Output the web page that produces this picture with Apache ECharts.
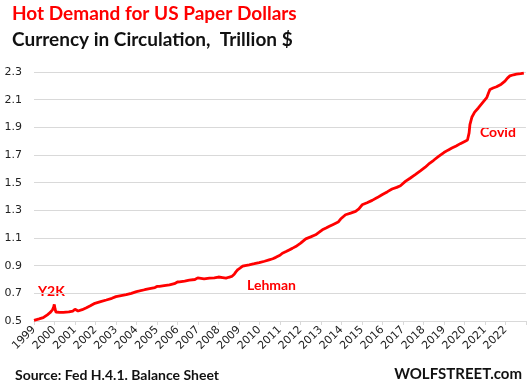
<!DOCTYPE html>
<html>
<head>
<meta charset="utf-8">
<script src="https://cdn.jsdelivr.net/npm/echarts@6/dist/echarts.min.js"></script>
<style>
html,body{margin:0;padding:0;background:#fff;}
#chart{width:528px;height:391px;}
</style>
</head>
<body>
<div id="chart"></div>
<script>
// Time in decimal years
const years = [
1999.00,1999.25,1999.45,1999.65,1999.78,1999.90,1999.96,1999.99,2000.03,2000.07,
2000.25,2000.43,2000.70,2000.90,2001.00,2001.05,2001.15,2001.35,2001.56,2001.75,
2001.97,2002.00,2002.05,2002.25,2002.53,2002.80,2003.00,2003.05,2003.25,2003.50,
2003.75,2004.00,2004.15,2004.40,2004.64,2004.90,2005.00,2005.12,2005.35,2005.61,
2005.85,2006.00,2006.10,2006.35,2006.58,2006.85,2006.99,2007.05,2007.30,2007.56,
2007.80,2008.00,2008.20,2008.37,2008.50,2008.65,2008.77,2008.85,2008.95,2009.05,
2009.18,2009.30,2009.50,2009.75,2009.99,2010.25,2010.47,2010.65,2010.80,2011.00,
2011.12,2011.30,2011.45,2011.60,2011.77,2012.01,2012.26,2012.50,2012.74,2012.90,
2013.07,2013.25,2013.39,2013.60,2013.84,2013.96,2014.20,2014.45,2014.69,2014.85,
2015.01,2015.25,2015.50,2015.75,2015.98,2016.25,2016.47,2016.70,2016.88,2017.12,
2017.35,2017.60,2017.85,2018.09,2018.30,2018.50,2018.74,2019.00,2019.20,2019.39,
2019.60,2019.80,2020.04,2020.15,2020.20,2020.23,2020.27,2020.37,2020.50,2020.68,
2020.90,2021.09,2021.18,2021.25,2021.40,2021.57,2021.80,2021.98,2022.10,2022.22,
2022.40,2022.54,2022.75,2022.90
];
// Currency in circulation, trillion $
const currency = [
0.505,0.515,0.524,0.545,0.560,0.580,0.600,0.620,0.585,0.565,
0.562,0.563,0.566,0.572,0.585,0.578,0.572,0.582,0.596,0.610,
0.628,0.635,0.628,0.640,0.652,0.664,0.676,0.672,0.684,0.690,
0.700,0.712,0.717,0.726,0.734,0.742,0.750,0.751,0.756,0.761,
0.770,0.782,0.783,0.789,0.795,0.800,0.812,0.800,0.805,0.810,
0.812,0.818,0.814,0.810,0.816,0.822,0.838,0.855,0.872,0.882,
0.896,0.901,0.906,0.914,0.922,0.932,0.942,0.950,0.960,0.975,
0.990,1.002,1.014,1.025,1.038,1.063,1.094,1.108,1.123,1.140,
1.159,1.172,1.183,1.198,1.215,1.237,1.268,1.280,1.292,1.310,
1.340,1.355,1.372,1.392,1.413,1.435,1.454,1.466,1.478,1.509,
1.532,1.558,1.585,1.612,1.640,1.662,1.690,1.718,1.735,1.750,
1.765,1.782,1.800,1.808,1.815,1.860,1.920,1.975,2.010,2.040,
2.080,2.114,2.150,2.174,2.184,2.193,2.212,2.234,2.256,2.272,
2.280,2.285,2.288,2.292
];
const yearTicks = [1999,2000,2001,2002,2003,2004,2005,2006,2007,2008,2009,2010,2011,2012,2013,2014,2015,2016,2017,2018,2019,2020,2021,2022];
const yTicks = [0.5,0.7,0.9,1.1,1.3,1.5,1.7,1.9,2.1,2.3];

const title = 'Hot Demand for US Paper Dollars';
const subtitle = 'Currency in Circulation,  Trillion $';
const source = 'Source: Fed H.4.1. Balance Sheet';
const brand = 'WOLFSTREET.com';

const chart = echarts.init(document.getElementById('chart'), null, {renderer:'canvas'});
const RED = '#ff0000';
const labelFont = '"DejaVu Sans", sans-serif';
const headFont = 'Lato, "Liberation Sans", sans-serif';

chart.setOption({
  animation:false,
  backgroundColor:'#ffffff',
  grid:{left:34,right:0,top:72,bottom:70,containLabel:false},
  xAxis:{
    type:'value',
    min:1999, max:2023, interval:1,
    axisLine:{show:true,lineStyle:{color:'#d9d9d9',width:1}},
    axisTick:{show:true,length:4,lineStyle:{color:'#d9d9d9'}},
    splitLine:{show:false},
    axisLabel:{
      rotate:45, margin:7, color:'#222', fontSize:11, fontFamily:labelFont,
      formatter:function(v){ return yearTicks.indexOf(Math.round(v))>=0 ? String(Math.round(v)) : ''; }
    }
  },
  yAxis:{
    type:'value',
    min:yTicks[0], max:yTicks[yTicks.length-1], interval:0.2,
    axisLine:{show:false}, axisTick:{show:false},
    splitLine:{show:true,lineStyle:{color:'#d9d9d9',width:1}},
    axisLabel:{margin:12,color:'#222',fontSize:11,fontFamily:labelFont,
      formatter:function(v){return v.toFixed(1);}}
  },
  series:[{
    type:'line',
    data:years.map((y,i)=>[y,currency[i]]),
    showSymbol:false,
    lineStyle:{color:RED,width:2.8},
    itemStyle:{color:RED}
  }],
  graphic:[
    {type:'text',left:12,top:4,style:{text:title,fill:RED,font:'bold 19px '+headFont}},
    {type:'text',left:12,top:30,style:{text:subtitle,fill:'#111',font:'bold 19px '+headFont}},
    {type:'text',left:15,top:368,style:{text:source,fill:'#111',font:'bold 14px '+headFont}},
    {type:'text',right:6,top:367,style:{text:brand,fill:'#111',font:'bold 15px '+headFont}},
    {type:'text',left:38,top:284,style:{text:'Y2K',fill:RED,font:'bold 14px '+headFont}},
    {type:'text',left:247,top:278,style:{text:'Lehman',fill:RED,font:'bold 14px '+headFont}},
    {type:'text',left:480,top:125,style:{text:'Covid',fill:RED,font:'bold 14px '+headFont}}
  ]
});
</script>
</body>
</html>
